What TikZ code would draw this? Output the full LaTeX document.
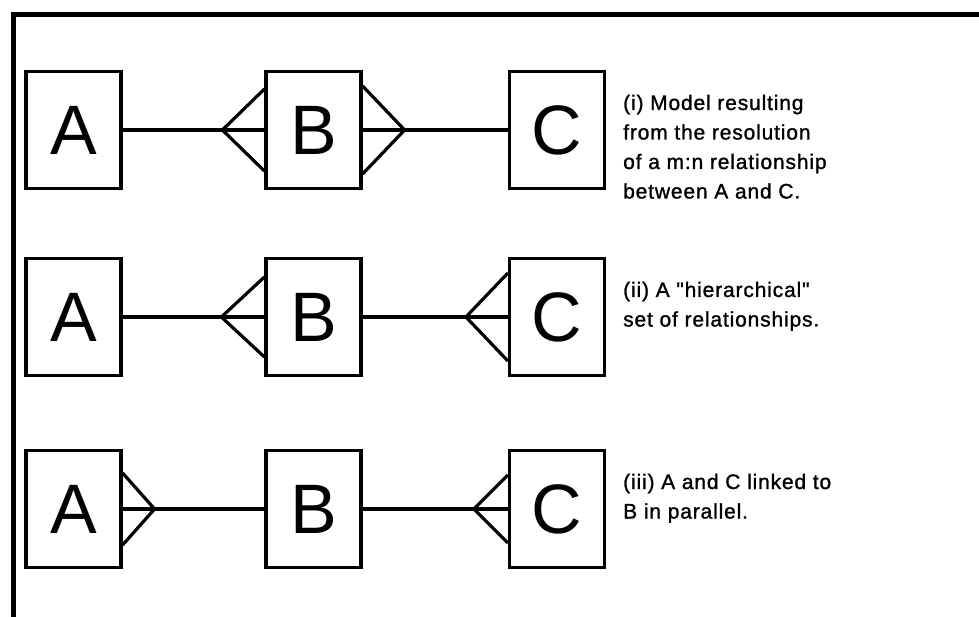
\documentclass[tikz,border=0pt]{standalone}
\usepackage{fontspec}
\setmainfont{Liberation Sans}
\newfontfamily\notefont[LetterSpace=4,FakeBold=1.2]{Liberation Sans}

\tikzset{
  ent/.style={draw,line width=3.2pt,minimum width=95pt,minimum height=117pt,inner sep=0pt,font=\fontsize{70}{70}\selectfont},
  lnk/.style={line width=3.2pt},
  note/.style={anchor=base west,align=left,inner sep=0pt,font=\notefont\fontsize{21}{29.5}\selectfont}
}

\begin{document}
\begin{tikzpicture}[x=1pt,y=-1pt]
\useasboundingbox (0,0) rectangle (979,617);
\draw[line width=5pt] (13,617) -- (13,14.5) -- (979,14.5);
% (i)
\node[ent] (A1) at (73.5,130) {A};
\node[ent] (B1) at (313.5,130) {B};
\node[ent] (C1) at (557,130) {C};
\draw[lnk] (A1) -- (B1);
\draw[lnk] (B1) -- (C1);
\draw[lnk] ([yshift=41pt]B1.west) -- ([xshift=-42pt]B1.west) -- ([yshift=-41pt]B1.west);
\draw[lnk] ([yshift=44pt]B1.east) -- ([xshift=42pt]B1.east) -- ([yshift=-44pt]B1.east);
\node[note] (t1) at (623,198.5) {(i) Model resulting\\from the resolution\\of a m:n relationship\\between A and C.};
% (ii)
\node[ent] (A2) at (73.5,317) {A};
\node[ent] (B2) at (313.5,317) {B};
\node[ent] (C2) at (557,317) {C};
\draw[lnk] (A2) -- (B2);
\draw[lnk] (B2) -- (C2);
\draw[lnk] ([yshift=40pt]B2.west) -- ([xshift=-43pt]B2.west) -- ([yshift=-40pt]B2.west);
\draw[lnk] ([yshift=44pt]C2.west) -- ([xshift=-42pt]C2.west) -- ([yshift=-44pt]C2.west);
\node[note] (t2) at (623,326.5) {(ii) A "hierarchical"\\set of relationships.};
% (iii)
\node[ent] (A3) at (73.5,509) {A};
\node[ent] (B3) at (313.5,509) {B};
\node[ent] (C3) at (557,509) {C};
\draw[lnk] (A3) -- (B3);
\draw[lnk] (B3) -- (C3);
\draw[lnk] ([yshift=36pt]A3.east) -- ([xshift=32pt]A3.east) -- ([yshift=-36pt]A3.east);
\draw[lnk] ([yshift=34pt]C3.west) -- ([xshift=-34pt]C3.west) -- ([yshift=-34pt]C3.west);
\node[note] (t3) at (623,518.5) {(iii) A and C linked to\\B in parallel.};
\end{tikzpicture}
\end{document}
